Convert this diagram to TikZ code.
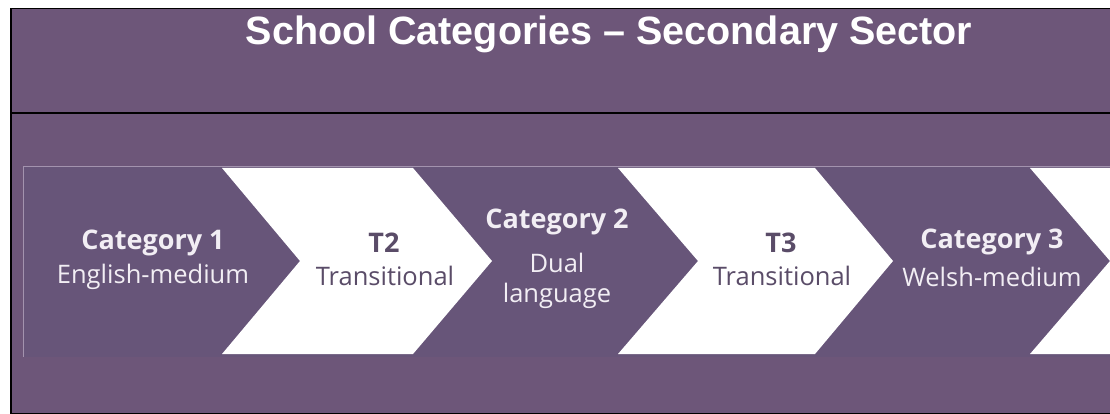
\documentclass[tikz,border=0pt]{standalone}
\usepackage{fontspec}
\setmainfont{Open Sans}
\newfontfamily\titlefont{Liberation Sans}
\definecolor{bgpurple}{HTML}{6D5679}
\definecolor{bandpurple}{HTML}{675579}
\definecolor{edgepurple}{HTML}{A393AE}
\definecolor{darktext}{HTML}{5A4C68}
\definecolor{lighttext}{HTML}{F2EEF4}
\tikzset{
  chevwhite/.style={fill=white, draw=none},
  headlbl/.style={font=\fontsize{27}{31}\selectfont\bfseries, inner sep=0pt, anchor=center},
  sublbl/.style={font=\fontsize{25.5}{29}\selectfont, inner sep=0pt, anchor=center},
  onpurple/.style={text=lighttext},
  onwhite/.style={text=darktext},
}
\begin{document}
\begin{tikzpicture}[x=1pt,y=-1pt]
\useasboundingbox (0,0) rectangle (1110,414);
\fill[white] (0,0) rectangle (1110,414);
% background panel
\fill[bgpurple] (11,8.5) rectangle (1110,414);
\draw[black, line width=1.2pt] (1110,413.4) -- (11,413.4) -- (11,8.5) -- (1110,8.5);
\draw[black, line width=1.2pt] (11,113) -- (1110,113);
% band
\fill[bandpurple] (23,167) rectangle (1110,357);
\draw[edgepurple, line width=1pt] (23,357) -- (23,167) -- (1110,167);
% white chevrons
\fill[chevwhite] (222,168) -- (413,168) -- (492,261) -- (413,354) -- (222,354) -- (300,261) -- cycle;
\fill[chevwhite] (618,168) -- (815,168) -- (893,261) -- (815,354) -- (618,354) -- (698,261) -- cycle;
\fill[chevwhite] (1030,168) -- (1110,168) -- (1110,354) -- (1030,354) -- (1110,261) -- cycle;
% title
\node[font=\titlefont\fontsize{39.5}{45}\selectfont\bfseries, text=white, inner sep=0pt] (title) at (609,34) {School Categories – Secondary Sector};
% labels
\node[headlbl, onpurple] (c1h) at (153,243) {Category 1};
\node[sublbl, onpurple] (c1s) at (153,277) {English-medium};
\node[headlbl, onwhite] (t2h) at (384,243) {T2};
\node[sublbl, onwhite] (t2s) at (385,276) {Transitional};
\node[headlbl, onpurple] (c2h) at (557,222) {Category 2};
\node[sublbl, onpurple] (c2s) at (557,263) {Dual};
\node[sublbl, onpurple] (c2t) at (557,296) {language};
\node[headlbl, onwhite] (t3h) at (781,243) {T3};
\node[sublbl, onwhite] (t3s) at (782,276) {Transitional};
\node[headlbl, onpurple] (c3h) at (992,242) {Category 3};
\node[sublbl, onpurple] (c3s) at (992,277) {Welsh-medium};
\end{tikzpicture}
\end{document}
